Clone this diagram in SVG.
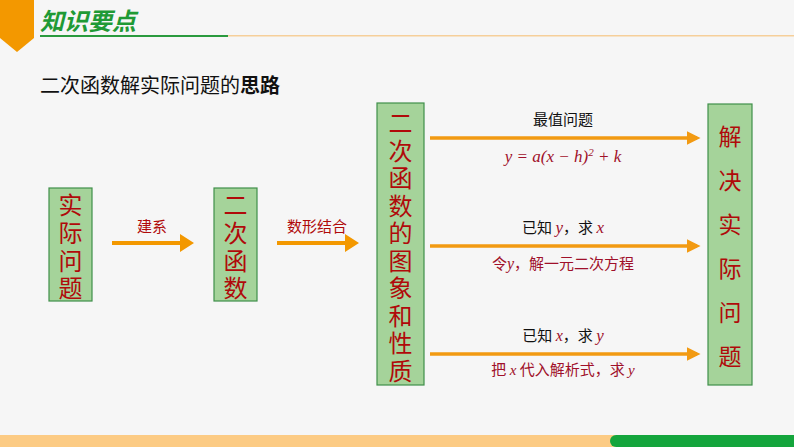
<svg xmlns="http://www.w3.org/2000/svg" width="794" height="447" viewBox="0 0 794 447">
<style>
.box{fill:#A5D39A;stroke:#3F8F4A;stroke-width:1.2}
.v{font-family:"Noto Sans CJK SC",sans-serif;fill:#B00A0A;text-anchor:middle}
.lb{font-family:"Noto Sans CJK SC",sans-serif;font-size:15px;text-anchor:middle}
.m{font-family:"Liberation Serif",serif;font-style:italic;fill:#A0102A}
.thin{stroke:#F29A12;stroke-width:3.5;fill:none}
</style>
<defs><marker id="ah" markerWidth="4" markerHeight="4" refX="3" refY="2" orient="auto"><path d="M0,0 L4,2 L0,4 Z" fill="#F29A12"/></marker></defs>
<rect width="794" height="447" fill="#F6F6F6"/>
<g id="header">
<path d="M0,0 H34 V38 L17,52 L0,38 Z" fill="#F39800"/>
<text x="40" y="30" font-family="Noto Sans CJK SC,sans-serif" font-size="24" font-weight="bold" font-style="italic" fill="#1F9A35">知识要点</text>
<rect x="40" y="35" width="188" height="2" fill="#2A9A3E"/>
<rect x="228" y="35" width="566" height="1.5" fill="#F6CF9A"/>
<text x="40" y="93" font-family="Noto Sans CJK SC,sans-serif" font-size="20" fill="#111">二次函数解实际问题的<tspan font-weight="bold">思路</tspan></text>
</g>
<g id="footer">
<rect x="0" y="435" width="615" height="12" fill="#FCCB84"/>
<rect x="610" y="435" width="184" height="12" rx="6" fill="#14A53C"/>
<rect x="616" y="435" width="178" height="12" fill="#14A53C"/>
</g>
<g id="n1"><rect class="box" x="49" y="188" width="43" height="113"/>
<g class="v" font-size="24"><text x="70.5" y="214">实</text><text x="70.5" y="242">际</text><text x="70.5" y="270">问</text><text x="70.5" y="297">题</text></g></g>
<g id="n2"><rect class="box" x="214" y="188" width="43" height="113"/>
<g class="v" font-size="24"><text x="235.5" y="214">二</text><text x="235.5" y="242">次</text><text x="235.5" y="270">函</text><text x="235.5" y="297">数</text></g></g>
<g id="n3"><rect class="box" x="377" y="103" width="47" height="282"/>
<g class="v" font-size="24">
<text x="400.5" y="132">二</text><text x="400.5" y="159.5">次</text><text x="400.5" y="187">函</text><text x="400.5" y="214.5">数</text><text x="400.5" y="242">的</text><text x="400.5" y="269.5">图</text><text x="400.5" y="297">象</text><text x="400.5" y="324.5">和</text><text x="400.5" y="352">性</text><text x="400.5" y="379.5">质</text></g>
</g>
<g id="n4"><rect class="box" x="708" y="104" width="44" height="281"/>
<g class="v" font-size="23">
<text x="730" y="145">解</text><text x="730" y="189">决</text><text x="730" y="233">实</text><text x="730" y="277">际</text><text x="730" y="321">问</text><text x="730" y="365">题</text></g>
</g>
<g id="connectors">
<path d="M112,241 H180 V234 L194,243 L180,252 V245 H112 Z" fill="#F39800"/>
<path d="M277,241 H345 V234 L359,243 L345,252 V245 H277 Z" fill="#F39800"/>
<text class="lb" x="152" y="232" fill="#B00A0A">建系</text>
<text class="lb" x="317" y="232" fill="#B00A0A">数形结合</text>
<line class="thin" x1="430" y1="138" x2="697" y2="138" marker-end="url(#ah)"/>
<line class="thin" x1="430" y1="246" x2="697" y2="246" marker-end="url(#ah)"/>
<line class="thin" x1="430" y1="354" x2="697" y2="354" marker-end="url(#ah)"/>
<text class="lb" x="563" y="125" fill="#111">最值问题</text>
<text class="m" x="563" y="162" font-size="17" text-anchor="middle">y = a(x − h)<tspan font-size="11" dy="-6">2</tspan><tspan dy="6"> + k</tspan></text>
<text class="lb" x="563" y="233" fill="#111">已知 <tspan class="m" font-size="17">y</tspan>，求 <tspan class="m" font-size="17">x</tspan></text>
<text class="lb" x="563" y="269" fill="#A0102A">令<tspan class="m" font-size="16">y</tspan>，解一元二次方程</text>
<text class="lb" x="563" y="341" fill="#111">已知 <tspan class="m" font-size="16">x</tspan>，求 <tspan class="m" font-size="17">y</tspan></text>
<text class="lb" x="563" y="375" fill="#A0102A">把 <tspan class="m" font-size="15">x</tspan> 代入解析式，求 <tspan class="m" font-size="15">y</tspan></text>
</g>
</svg>
